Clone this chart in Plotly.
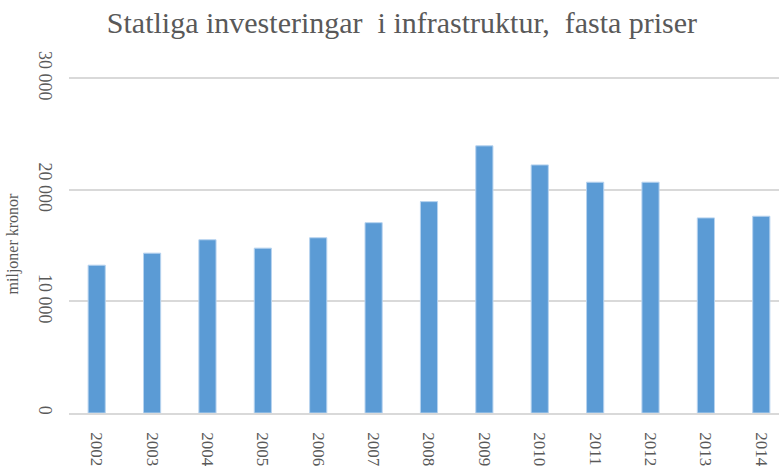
import plotly.graph_objects as go

years = ["2002", "2003", "2004", "2005", "2006", "2007", "2008",
         "2009", "2010", "2011", "2012", "2013", "2014"]
values = [13250, 14330, 15530, 14780, 15710, 17060, 18950,
          23950, 22240, 20690, 20690, 17490, 17640]
y_ticks = [0, 10000, 20000, 30000]
y_tick_labels = ["0", "10 000", "20 000", "30 000"]

title_text = "Statliga investeringar  i infrastruktur,  fasta priser"
y_title = "miljoner kronor"

grey = "#595959"
font_fam = "Liberation Serif, Times New Roman, serif"

fig = go.Figure(go.Bar(
    x=years, y=values,
    marker=dict(color="#5b9bd5", line=dict(color="#b7d3ef", width=1)),
    width=0.31,
))

fig.update_layout(
    width=779, height=471,
    paper_bgcolor="white", plot_bgcolor="white",
    margin=dict(l=69, r=0, t=75, b=58, autoexpand=False),
    showlegend=False,
    title=dict(text=title_text, x=0.516, xanchor="center", y=0.952, yanchor="middle",
               font=dict(family=font_fam, size=30, color=grey)),
    font=dict(family=font_fam, color=grey),
)

fig.update_xaxes(
    type="category", range=[-0.5, 12.32], automargin=False,
    tickangle=90, tickfont=dict(family=font_fam, size=17, color=grey),
    showgrid=False, showline=True, linecolor="#d9d9d9", linewidth=1.5,
    ticks="", ticklabelstandoff=14,
)
fig.update_yaxes(
    range=[0, 30300], tickvals=y_ticks, ticktext=y_tick_labels, automargin=False,
    tickangle=90, tickfont=dict(family=font_fam, size=18, color=grey),
    showgrid=True, gridcolor="#d9d9d9", gridwidth=1.5, zeroline=False,
    showline=False, ticks="", ticklabelstandoff=11,
    title=dict(text=y_title, font=dict(family=font_fam, size=16, color=grey), standoff=12),
)

fig.write_html("out.html", config={"displayModeBar": False},
               post_script="document.body.style.margin='0';document.body.style.overflow='hidden';")
